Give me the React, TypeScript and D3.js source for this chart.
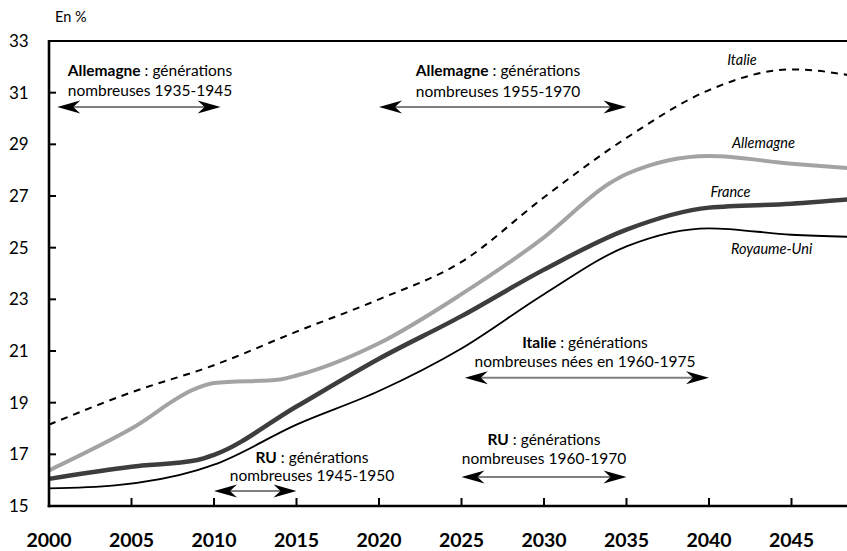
import React from "react";
import * as d3 from "d3";

// ---- Data ----
const italieYears = [2000, 2005, 2010, 2015, 2020, 2025, 2030, 2035, 2040, 2045, 2050];
const italieValues = [18.15, 19.4, 20.45, 21.75, 23.0, 24.45, 26.95, 29.25, 31.1, 31.9, 31.5];

const allemagneYears = [2000, 2005, 2009, 2010, 2014, 2015, 2020, 2025, 2030, 2034, 2035, 2040, 2045, 2050];
const allemagneValues = [16.38, 18.0, 19.57, 19.76, 19.9, 20.05, 21.3, 23.2, 25.4, 27.5, 27.85, 28.55, 28.25, 28.0];

const franceYears = [2000, 2005, 2009, 2010, 2015, 2020, 2025, 2030, 2035, 2040, 2045, 2050];
const franceValues = [16.05, 16.52, 16.78, 16.98, 18.85, 20.7, 22.35, 24.15, 25.7, 26.55, 26.7, 26.95];

const ruYears = [2000, 2004, 2009, 2010, 2015, 2020, 2025, 2030, 2035, 2040, 2045, 2050];
const ruValues = [15.68, 15.8, 16.39, 16.6, 18.15, 19.45, 21.1, 23.2, 25.05, 25.75, 25.5, 25.4];

const xTicks = [2000, 2005, 2010, 2015, 2020, 2025, 2030, 2035, 2040, 2045];
const yTicks = [15, 17, 19, 21, 23, 25, 27, 29, 31, 33];

// Annotations: bold word, rest of line 1, line 2, start year, end year, level (%)
const annBold = ["Allemagne", "Allemagne", "Italie", "RU", "RU"];
const annRest = [" : générations", " : générations", " : générations", " : générations", " : générations"];
const annLine2 = ["nombreuses 1935-1945", "nombreuses 1955-1970", "nombreuses nées en 1960-1975", "nombreuses 1945-1950", "nombreuses 1960-1970"];
const annStart = [2000.5, 2020, 2025.2, 2010, 2025];
const annEnd = [2010.4, 2035, 2040, 2015, 2035];
const annLevel = [30.45, 30.45, 19.96, 15.58, 16.12];

// Series labels
const seriesNames = ["Italie", "Allemagne", "France", "Royaume-Uni"];
const labelYears = [2042.0, 2043.3, 2041.3, 2043.8];
const labelValues = [32.07, 28.86, 26.96, 24.76];

const W = 847;
const H = 551;
const FONT = "Lato, 'Open Sans', sans-serif";

export default function App() {
  const x = d3.scaleLinear().domain([2000, 2050]).range([49, 874]);
  const y = d3.scaleLinear().domain([15, 33]).range([506, 41]);

  const line = d3
    .line<[number, number]>()
    .x((d) => x(d[0]))
    .y((d) => y(d[1]))
    .curve(d3.curveMonotoneX);

  const zip = (a: number[], b: number[]) => a.map((v, i) => [v, b[i]] as [number, number]);

  const arrowHead = (tipX: number, yy: number, dir: number) => {
    const L = 23;
    const h = 6.5;
    const n = 16;
    return `M${tipX},${yy} L${tipX + dir * L},${yy - h} L${tipX + dir * n},${yy} L${tipX + dir * L},${yy + h} Z`;
  };

  const annCenterX = [150, 498, 585, 312, 544];
  const annGap = [11, 10, 11, 10, 13];
  const annLead = [20, 21, 19, 18, 19];

  return (
    <svg
      width={W}
      height={H}
      style={{ position: "absolute", left: 0, top: 0, background: "#fff" }}
      fontFamily={FONT}
    >
      <rect x={0} y={0} width={W} height={H} fill="#fff" />
      <text x={55} y={22} fontSize={14.5} fill="#000">En %</text>

      {/* series */}
      <path d={line(zip(allemagneYears, allemagneValues)) || ""} fill="none" stroke="#a3a3a3" strokeWidth={4} strokeLinejoin="round" />
      <path d={line(zip(franceYears, franceValues)) || ""} fill="none" stroke="#3d3d3d" strokeWidth={4.5} strokeLinejoin="round" />
      <path d={line(zip(ruYears, ruValues)) || ""} fill="none" stroke="#000" strokeWidth={1.8} strokeLinejoin="round" />
      <path d={line(zip(italieYears, italieValues)) || ""} fill="none" stroke="#000" strokeWidth={2} strokeDasharray="7,6" />

      {/* axes frame */}
      <line x1={49} x2={W} y1={y(33)} y2={y(33)} stroke="#000" strokeWidth={2.2} />
      <line x1={49} x2={49} y1={y(33) - 1} y2={y(15) + 1.3} stroke="#000" strokeWidth={2.6} />
      <line x1={47.7} x2={W} y1={y(15)} y2={y(15)} stroke="#000" strokeWidth={2.6} />

      {yTicks.map((t) => (
        <g key={"y" + t}>
          {t !== 15 && t !== 33 && (
            <line x1={49} x2={56} y1={y(t)} y2={y(t)} stroke="#000" strokeWidth={2} />
          )}
          <text x={9} y={y(t)} dy="0.36em" fontSize={17} fill="#000">
            {t}
          </text>
        </g>
      ))}
      {xTicks.map((t) => (
        <g key={"x" + t}>
          {t !== 2000 && (
            <line x1={x(t)} x2={x(t)} y1={y(15)} y2={y(15) - 8} stroke="#000" strokeWidth={2} />
          )}
          <text x={x(t)} y={547} textAnchor="middle" fontSize={19.5} fontWeight={700} fill="#000">
            {t}
          </text>
        </g>
      ))}

      {/* annotations */}
      {annBold.map((b, i) => {
        const ay = y(annLevel[i]);
        const x0 = x(annStart[i]);
        const x1 = x(annEnd[i]);
        const cx = annCenterX[i];
        const base2 = ay - annGap[i];
        return (
          <g key={"a" + i}>
            <line x1={x0 + 15} x2={x1 - 15} y1={ay} y2={ay} stroke="#808080" strokeWidth={2} />
            <path d={arrowHead(x0, ay, 1)} fill="#000" />
            <path d={arrowHead(x1, ay, -1)} fill="#000" />
            <text x={cx} y={base2 - annLead[i]} textAnchor="middle" fontSize={15.5} fill="#000">
              <tspan fontWeight={700}>{b}</tspan>
              <tspan>{annRest[i]}</tspan>
            </text>
            <text x={cx} y={base2} textAnchor="middle" fontSize={15.5} fill="#000">
              {annLine2[i]}
            </text>
          </g>
        );
      })}

      {/* series labels */}
      {seriesNames.map((n, i) => (
        <text
          key={n}
          x={x(labelYears[i])}
          y={y(labelValues[i])}
          textAnchor="middle"
          fontSize={14.5}
          fontStyle="italic"
          fill="#000"
        >
          {n}
        </text>
      ))}
    </svg>
  );
}
